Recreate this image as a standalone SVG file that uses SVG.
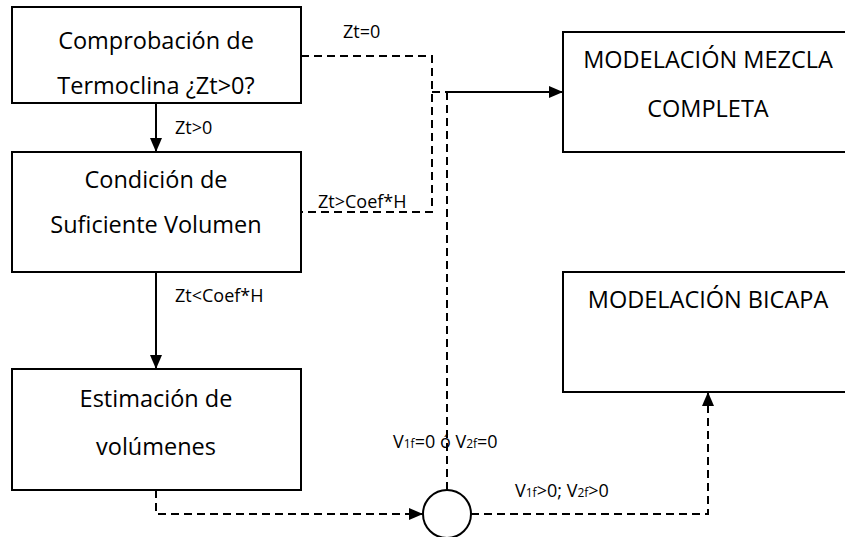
<svg xmlns="http://www.w3.org/2000/svg" width="845" height="537" viewBox="0 0 845 537">
<style>
.box{fill:#fff;stroke:#000;stroke-width:2}
.t{font-family:"Open Sans","Liberation Sans",sans-serif;font-size:23.5px;fill:#000;text-anchor:middle}
.l{font-family:"Open Sans","Liberation Sans",sans-serif;font-size:18px;fill:#000}
.s{font-size:12px}
.sol{fill:none;stroke:#000;stroke-width:2}
.dash{fill:none;stroke:#000;stroke-width:2;stroke-dasharray:8 5}
</style>
<defs>
<marker id="ah" markerWidth="14" markerHeight="12" refX="14" refY="6" orient="auto" markerUnits="userSpaceOnUse">
<path d="M0,0 L14,6 L0,12 Z" fill="#000"/>
</marker>
</defs>
<g id="n1"><rect class="box" x="12" y="7" width="289" height="96"/>
<text class="t" x="156" y="49">Comprobación de</text>
<text class="t" x="156" y="94">Termoclina ¿Zt&gt;0?</text></g>
<g id="n2"><rect class="box" x="12" y="152" width="289" height="120"/>
<text class="t" x="156" y="188">Condición de</text>
<text class="t" x="156" y="233">Suficiente Volumen</text></g>
<g id="n3"><rect class="box" x="12" y="369" width="289" height="121"/>
<text class="t" x="156" y="407">Estimación de</text>
<text class="t" x="156" y="455">volúmenes</text></g>
<g id="n4"><rect class="box" x="563" y="32" width="290" height="120"/>
<text class="t" x="708" y="68">MODELACIÓN MEZCLA</text>
<text class="t" x="708" y="117">COMPLETA</text></g>
<g id="n5"><rect class="box" x="563" y="272" width="290" height="120"/>
<text class="t" x="708" y="308">MODELACIÓN BICAPA</text></g>
<g id="n6"><circle class="box" cx="447" cy="514" r="24"/></g>
<g id="connectors">
<path class="sol" d="M156,103 V152" marker-end="url(#ah)"/>
<path class="sol" d="M156,272 V369" marker-end="url(#ah)"/>
<path class="dash" d="M301,56 H432 V212 H301"/>
<path class="dash" d="M432,92 H447"/>
<path class="sol" d="M447,92 H563" marker-end="url(#ah)"/>
<path class="dash" d="M447,490 V92"/>
<path class="dash" d="M156,490 V514 H423" marker-end="url(#ah)"/>
<path class="dash" d="M471,514 H708 V392" marker-end="url(#ah)"/>
</g>
<g id="labels">
<text class="l" x="343" y="38">Zt=0</text>
<text class="l" x="175" y="134">Zt&gt;0</text>
<text class="l" x="318" y="208">Zt&gt;Coef*H</text>
<text class="l" x="175" y="302">Zt&lt;Coef*H</text>
<text class="l" x="393" y="448">V<tspan class="s">1f</tspan>=0 ó V<tspan class="s">2f</tspan>=0</text>
<text class="l" x="515" y="497">V<tspan class="s">1f</tspan>&gt;0; V<tspan class="s">2f</tspan>&gt;0</text>
</g>
</svg>
